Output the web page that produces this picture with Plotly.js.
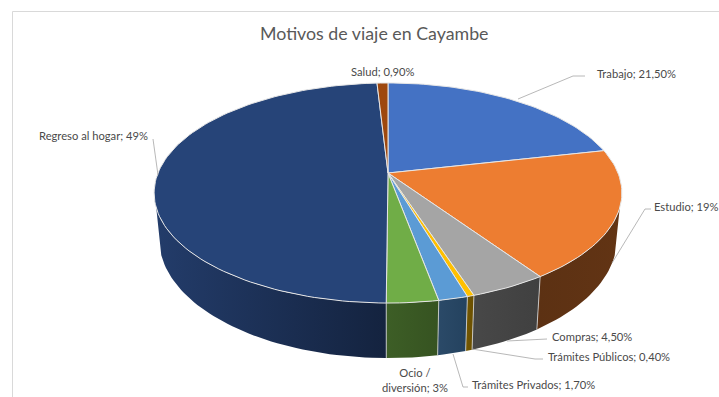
<!DOCTYPE html>
<html><head><meta charset="utf-8">
<script src="https://cdn.plot.ly/plotly-3.0.1.min.js"></script>
<style>html,body{margin:0;padding:0;background:#fff}#c{width:719px;height:397px}</style>
</head><body><div id="c"></div>
<script>
const categories = ["Trabajo","Estudio","Compras","Trámites Públicos","Trámites Privados","Ocio / diversión","Regreso al hogar","Salud"];
const values = [21.5,19,4.5,0.4,1.7,3,49,0.9];
const valueLabels = ["21,50%","19%","4,50%","0,40%","1,70%","3%","49%","0,90%"];
const topColors = ["#4472c4","#ed7d31","#a5a5a5","#ffc000","#5b9bd5","#70ad47","#264478","#9e480e"];
const wallLeft = ["#2c4a80","#5c3113","#484848","#745700","#2b4a68","#3d5e26","#233c6a","#5f2b08"];
const wallRight = ["#2c4a80","#623414","#404040","#6a4f00","#24425f","#365321","#14233f","#5f2b08"];

// Projection of the tilted disc: the chart's centre and perspective
const top3d = {cx:388, cy:173, a:230, b:106.4, k:0.1818};
const bot3d = {cx:388, cy:217.5, a:225, b:115, k:0.1818};
function proj(p, deg){
  const t = deg*Math.PI/180, u = Math.sin(t), v = -Math.cos(t), d = 1-p.k*v;
  return [p.cx+p.a*u/d, p.cy+p.b*v/d];
}
function arc(p, d1, d2){
  const n = Math.max(2, Math.ceil(Math.abs(d2-d1)/1.5)), out = [];
  for(let i=0;i<=n;i++) out.push(proj(p, d1+(d2-d1)*i/n));
  return out;
}
const total = values.reduce((a,b)=>a+b,0);
const traces = [];
let start = 0;
const spans = values.map(v=>{const s=[start,start+v/total*360]; start=s[1]; return s;});

// walls: only the rim part that faces the viewer
spans.forEach((s,i)=>{
  const a = Math.max(s[0],108), b = Math.min(s[1],252);
  if(a>=b) return;
  const t = arc(top3d,a,b), l = arc(bot3d,a,b).reverse(), pts = t.concat(l,[t[0]]);
  traces.push({type:"scatter",mode:"lines",x:pts.map(q=>q[0]),y:pts.map(q=>q[1]),fill:"toself",
    fillgradient:{type:"horizontal",colorscale:[[0,wallLeft[i]],[1,wallRight[i]]]},
    line:{color:"rgba(0,0,0,0)",width:0},hoverinfo:"skip",showlegend:false});
});
// wall separators
spans.forEach(s=>{
  if(s[0]<108||s[0]>252) return;
  const p=proj(top3d,s[0]), q=proj(bot3d,s[0]);
  traces.push({type:"scatter",mode:"lines",x:[p[0],q[0]],y:[p[1],q[1]],
    line:{color:"#d9d9d9",width:0.8},hoverinfo:"skip",showlegend:false});
});
// top face
spans.forEach((s,i)=>{
  const r = arc(top3d,s[0],s[1]), c=[top3d.cx,top3d.cy], pts=[c].concat(r,[c]);
  traces.push({type:"scatter",mode:"lines",name:categories[i],x:pts.map(q=>q[0]),y:pts.map(q=>q[1]),fill:"toself",
    fillcolor:topColors[i],line:{color:"#e6e6e6",width:1},showlegend:false,
    text:categories[i]+"; "+valueLabels[i],hoverinfo:"text"});
});
// leader lines
const leaders = [
  [[518,99],[573,76],[585,76]],
  [[612,263],[645,209],[651,209]],
  [[507,341],[547,339]],
  [[472,349],[535,359],[543,359]],
  [[453,354],[463,387],[468,387]],
  [[158,175],[153,139]]
];
leaders.forEach(l=>traces.push({type:"scatter",mode:"lines",x:l.map(q=>q[0]),y:l.map(q=>q[1]),
  line:{color:"#a6a6a6",width:0.8},hoverinfo:"skip",showlegend:false}));

const labelPos = [[595,73],[652,206],[550,336],[546,356],[470,384],[415,379.5],[37,135],[349,71]];
const anns = categories.map((c,i)=>({
  x:labelPos[i][0],y:labelPos[i][1],xref:"x",yref:"y",xanchor:i==5?"center":"left",yanchor:"middle",showarrow:false,align:"center",
  text:(i==5?"Ocio /<br>diversión":c)+"; "+valueLabels[i],font:{family:"Lato, Carlito, sans-serif",size:11.2,color:"#4a4a4a"}
}));
anns.push({x:374,y:33,xref:"x",yref:"y",xanchor:"center",yanchor:"middle",showarrow:false,
  text:"Motivos de viaje en Cayambe",font:{family:"Lato, sans-serif",size:17.8,color:"#595959"}});
const layout = {
  width:719,height:397,margin:{l:0,r:0,t:0,b:0},paper_bgcolor:"#fff",plot_bgcolor:"#fff",showlegend:false,
  xaxis:{range:[0,719],visible:false,fixedrange:true},
  yaxis:{range:[397,0],visible:false,fixedrange:true},
  annotations:anns,
  shapes:[{type:"line",xref:"x",yref:"y",x0:12.5,x1:719,y0:11.5,y1:11.5,line:{color:"#d9d9d9",width:1}},
          {type:"line",xref:"x",yref:"y",x0:12.5,x1:12.5,y0:11.5,y1:397,line:{color:"#d9d9d9",width:1}}]
};
Plotly.newPlot("c",traces,layout,{displayModeBar:false,staticPlot:true});
</script></body></html>
